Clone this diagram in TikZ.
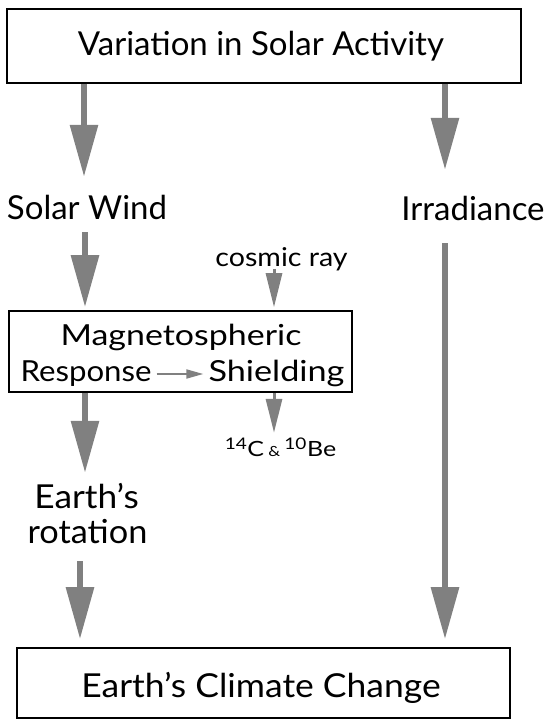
\documentclass[tikz,border=0pt]{standalone}
\usepackage{graphicx}
\usepackage{fontspec}
\setmainfont{Lato}
\usetikzlibrary{arrows.meta,calc}
\definecolor{arrgray}{HTML}{808080}
\tikzset{
  bigarr/.style={draw=arrgray, line width=6pt, -{Triangle[width=27pt,length=52pt]}},
  midarr/.style={draw=arrgray, line width=3pt, -{Triangle[width=16pt,length=34pt]}},
  tinyarr/.style={draw=arrgray, line width=2pt, -{Triangle[width=9pt,length=17pt]}},
  framebox/.style={draw=black, line width=1.6pt, inner sep=0pt, fill=white},
  biglbl/.style={inner sep=0pt, text height=24pt, text depth=7pt, font=\fontsize{33}{36}\selectfont},
  medlbl/.style={inner sep=0pt, text height=21pt, text depth=6pt, font=\fontsize{29}{32}\selectfont},
  smalllbl/.style={inner sep=0pt, text height=15pt, text depth=5pt, font=\fontsize{26}{28}\selectfont}
}
\begin{document}
\begin{tikzpicture}[x=1pt,y=-1pt]
\useasboundingbox (0,0) rectangle (556,720);
% boxes
\node[framebox, minimum width=514pt, minimum height=74pt] (vsa) at (264,46) {};
\node[biglbl] (vsat) at (261,46.5) {Variation in Solar Activity};
\node[framebox, minimum width=343pt, minimum height=81pt] (mag) at (180.5,351.5) {};
\node[medlbl] (magt) at (181,337.5) {\scalebox{1.17}[1]{Magnetospheric}};
\node[medlbl] (resp) at (86,374) {\scalebox{1.075}[1]{Response}};
\node[medlbl] (shld) at (276.5,374) {\scalebox{1.18}[1]{Shielding}};
\node[framebox, minimum width=493pt, minimum height=70pt] (ecc) at (263.5,683) {};
\node[biglbl] (ecct) at (261,688.5) {\scalebox{1.075}[1]{Earth’s Climate Change}};
% labels
\node[biglbl] (sw) at (87,210.5) {Solar Wind};
\node[biglbl] (irr) at (473,211.5) {Irradiance};
\node[smalllbl] (cr) at (281.5,261.7) {\scalebox{1.1}[1]{cosmic ray}};
\node[smalllbl] (iso) at (280.5,451.7) {\scalebox{1.19}[1]{\fontsize{21}{24}\selectfont\textsuperscript{\fontsize{16}{17}\selectfont 14}C\,{\fontsize{14}{16}\selectfont\&}\,\textsuperscript{\fontsize{16}{17}\selectfont 10}Be}};
\node[biglbl] (earth) at (86.5,500) {\scalebox{1.07}[1]{Earth’s}};
\node[biglbl] (rot) at (87.5,534.5) {\scalebox{1.04}[1]{rotation}};
% connectors
\draw[bigarr] ($(vsa.south -| sw.north)+(-3,0)$) -- ($(sw.north)+(-3,-18)$);
\draw[bigarr] ($(vsa.south -| irr.north)+(-28,0)$) -- ($(irr.north)+(-28,-26)$);
\draw[bigarr] ($(sw.south)+(-2,6)$) -- ($(mag.north -| sw.south)+(-2,-3)$);
\draw[bigarr] ($(irr.south)+(-28,16)$) -- ($(ecc.north -| irr.south)+(-28,-8)$);
\draw[midarr] ($(cr.south)+(-7.5,-3)$) -- ($(mag.north -| cr.south)+(-7.5,-3)$);
\draw[midarr] ($(mag.south -| cr.south)+(-7.5,0)$) -- ($(iso.north)+(-6.5,-8.7)$);
\draw[bigarr] ($(mag.south -| sw.south)+(-2,0)$) -- ($(earth.north)+(-1.5,-11.5)$);
\draw[bigarr] ($(rot.south)+(-7.5,11)$) -- ($(ecc.north -| rot.south)+(-7.5,-8)$);
\draw[tinyarr] ($(resp.east)+(5,0)$) -- ($(shld.west)+(-5,0)$);
\end{tikzpicture}
\end{document}
